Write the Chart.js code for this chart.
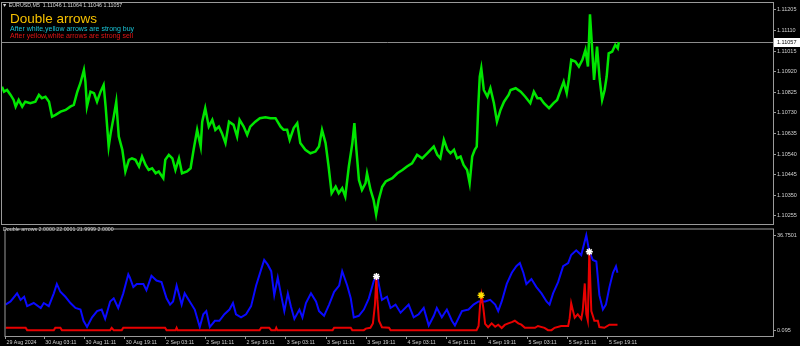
<!DOCTYPE html>
<html>
<head>
<meta charset="utf-8">
<script src="https://cdn.jsdelivr.net/npm/chart.js@4.4.1/dist/chart.umd.min.js"></script>
<style>
  html, body { margin: 0; padding: 0; background: #000; }
  #wrap { position: relative; width: 800px; height: 346px; background: #000; overflow: hidden; font-family: "Liberation Sans", Arial, sans-serif; }
  #priceBox { position: absolute; left: 0; top: 0; width: 800px; height: 225px; }
  #indBox { position: absolute; left: 0; top: 224px; width: 800px; height: 122px; }
  .txt { position: absolute; white-space: nowrap; line-height: 1; }
</style>
</head>
<body>
<div id="wrap">
  <div id="priceBox"><canvas id="price"></canvas></div>
  <div id="indBox"><canvas id="ind"></canvas></div>
  <div class="txt" style="left:2px; top:2.8px; font-size:5.3px; color:#d8d8d8;">▼ EURUSD,M5&nbsp; 1.11046 1.11064 1.11046 1.11057</div>
  <div class="txt" style="left:10px; top:11.5px; font-size:13.5px; color:#f5c000;">Double arrows</div>
  <div class="txt" style="left:10px; top:24.6px; font-size:7px; color:#19c3d6;">After white,yellow arrows are strong buy</div>
  <div class="txt" style="left:10px; top:32.4px; font-size:7px; color:#e01515;">After yellow,white arrows are strong sell</div>
  <div class="txt" style="left:3px; top:227.2px; font-size:5.3px; color:#d0d0d0;">Double arrows 2.0000 22.0001 21.9999 2.0000</div>
</div>
<script>
// time axis: hours since the first bar (29 Aug 19:11), weekend bars skipped
const dateLabels = ['29 Aug 2024', '30 Aug 03:11', '30 Aug 11:11', '30 Aug 19:11', '2 Sep 03:11', '2 Sep 11:11', '2 Sep 19:11',
  '3 Sep 03:11', '3 Sep 11:11', '3 Sep 19:11', '4 Sep 03:11', '4 Sep 11:11', '4 Sep 19:11', '5 Sep 03:11', '5 Sep 11:11', '5 Sep 19:11'];
const dateTickHours = [0.3, 8, 16, 24, 32, 40, 48, 56, 64, 72, 80, 88, 96, 104, 112, 120];

const priceTickLabels = ['1.11205', '1.11110', '1.11015', '1.10920', '1.10825', '1.10730', '1.10635', '1.10540', '1.10445', '1.10350', '1.10255'];
const indTickValues = [36.7501, 0.095];
const indTickLabels = ['36.7501', '0.095'];

// EURUSD M5 closes
const priceHours = [0.3, 0.7, 1.3, 2.0, 2.6, 3.0, 3.6, 4.3, 4.9, 5.9, 6.9, 7.6, 8.2, 8.9, 9.6, 10.2, 10.9, 11.9, 12.9, 13.8,
  14.5, 15.2, 15.8, 16.5, 16.8, 17.1, 17.8, 18.5, 19.1, 19.8, 20.4, 20.8, 21.1, 21.4, 21.8, 22.4, 22.9, 23.4, 24.1, 24.7,
  25.4, 26.0, 26.7, 27.4, 28.0, 28.7, 29.3, 30.0, 30.7, 31.3, 32.2, 32.6, 33.3, 34.0, 34.6, 35.3, 35.9, 36.9, 37.6, 38.2,
  38.9, 39.6, 39.9, 40.5, 41.2, 41.9, 42.5, 43.2, 43.8, 44.5, 45.2, 46.1, 46.8, 47.3, 48.1, 48.8, 49.4, 50.4, 51.3, 52.4,
  53.4, 54.4, 55.4, 56.0, 56.7, 57.2, 58.0, 58.7, 59.3, 60.3, 61.3, 62.3, 63.0, 63.6, 64.3, 64.9, 65.5, 66.3, 66.9, 67.6,
  68.2, 68.9, 69.6, 70.0, 70.4, 70.9, 71.5, 72.2, 72.5, 73.2, 73.8, 74.3, 74.8, 75.5, 76.2, 76.8, 77.5, 78.5, 79.5, 80.4,
  81.4, 82.4, 83.4, 84.4, 85.7, 86.4, 87.0, 87.7, 88.4, 89.0, 89.7, 90.3, 91.0, 91.6, 92.3, 92.8, 93.3, 93.8, 94.2, 94.5,
  94.8, 95.1, 95.6, 96.3, 96.9, 97.6, 98.2, 98.9, 99.6, 100.5, 100.9, 101.9, 102.9, 103.8, 104.8, 105.5, 106.2, 106.8, 107.5, 108.5,
  109.4, 110.1, 110.8, 111.4, 112.0, 112.4, 112.9, 113.7, 114.4, 115.1, 115.7, 116.2, 116.6, 117.0, 117.4, 117.7, 118.0, 118.5, 119.0, 119.5,
  119.9, 120.3, 121.0, 121.6, 122.1, 122.3];
const priceClose = [1.10851, 1.10828, 1.10836, 1.10813, 1.10790, 1.10759, 1.10790, 1.10759, 1.10782, 1.10775, 1.10782, 1.10813, 1.10798, 1.10805, 1.10782, 1.10713, 1.10721, 1.10736, 1.10744, 1.10759,
  1.10767, 1.10828, 1.10867, 1.10928, 1.10874, 1.10759, 1.10828, 1.10821, 1.10782, 1.10828, 1.10859, 1.10759, 1.10667, 1.10575, 1.10637, 1.10713, 1.10782, 1.10621, 1.10560, 1.10460,
  1.10514, 1.10521, 1.10514, 1.10483, 1.10529, 1.10490, 1.10467, 1.10475, 1.10452, 1.10460, 1.10429, 1.10514, 1.10537, 1.10521, 1.10467, 1.10521, 1.10452, 1.10460, 1.10475, 1.10560,
  1.10652, 1.10575, 1.10690, 1.10752, 1.10667, 1.10698, 1.10652, 1.10667, 1.10637, 1.10591, 1.10690, 1.10675, 1.10621, 1.10698, 1.10667, 1.10629, 1.10667, 1.10690, 1.10706, 1.10710,
  1.10706, 1.10706, 1.10667, 1.10652, 1.10652, 1.10606, 1.10660, 1.10683, 1.10591, 1.10560, 1.10544, 1.10552, 1.10575, 1.10652, 1.10591, 1.10483, 1.10360, 1.10390, 1.10360, 1.10383,
  1.10344, 1.10483, 1.10591, 1.10683, 1.10560, 1.10421, 1.10375, 1.10406, 1.10452, 1.10375, 1.10329, 1.10262, 1.10329, 1.10390, 1.10414, 1.10421, 1.10429, 1.10452, 1.10467, 1.10483,
  1.10498, 1.10537, 1.10521, 1.10544, 1.10575, 1.10537, 1.10521, 1.10606, 1.10560, 1.10544, 1.10560, 1.10521, 1.10529, 1.10490, 1.10467, 1.10406, 1.10529, 1.10560, 1.10575, 1.10759,
  1.10898, 1.10936, 1.10836, 1.10805, 1.10844, 1.10775, 1.10690, 1.10744, 1.10782, 1.10813, 1.10836, 1.10844, 1.10828, 1.10805, 1.10775, 1.10828, 1.10798, 1.10798, 1.10775, 1.10752,
  1.10775, 1.10790, 1.10836, 1.10874, 1.10821, 1.10882, 1.10975, 1.10967, 1.10944, 1.10975, 1.11021, 1.10944, 1.11185, 1.11036, 1.10882, 1.10959, 1.11036, 1.10890, 1.10790, 1.10836,
  1.10898, 1.11005, 1.11013, 1.11044, 1.11028, 1.11057];

// indicator: blue line
const blueHours = [0.3, 1.3, 2.6, 3.3, 4.0, 4.6, 5.9, 7.3, 7.9, 8.9, 9.9, 10.5, 11.2, 12.2, 13.2, 14.2, 15.2, 15.8, 16.5, 17.5,
  18.5, 19.4, 20.1, 21.1, 21.8, 22.7, 23.7, 24.7, 25.0, 25.7, 26.4, 27.7, 28.3, 29.3, 30.3, 31.3, 32.3, 33.0, 33.6, 34.3,
  35.3, 35.9, 36.9, 37.9, 38.9, 39.6, 40.2, 40.9, 41.9, 42.8, 43.8, 44.8, 45.5, 46.1, 47.1, 48.1, 49.1, 50.1, 51.1, 51.7,
  52.4, 53.1, 53.7, 54.4, 55.0, 55.7, 56.4, 57.0, 57.7, 58.7, 59.3, 60.0, 61.0, 62.0, 62.6, 63.6, 64.6, 65.6, 66.6, 67.2,
  68.2, 68.9, 69.5, 70.5, 71.5, 72.5, 73.5, 74.2, 75.1, 76.1, 76.8, 77.8, 78.8, 79.1, 80.4, 81.4, 82.4, 83.4, 84.4, 85.4,
  86.0, 87.0, 88.0, 89.0, 89.6, 91.0, 92.3, 93.3, 94.3, 95.6, 96.6, 97.6, 98.2, 98.9, 99.9, 100.9, 101.8, 102.5, 103.2, 103.8,
  104.8, 105.8, 106.8, 107.8, 108.4, 109.1, 110.1, 111.1, 112.1, 112.7, 113.7, 114.7, 115.7, 116.3, 117.0, 117.7, 118.3, 119.0, 119.6, 120.3,
  121.0, 121.6, 121.9];
const blueValues = [10.2, 11.4, 14.5, 12.0, 13.2, 9.6, 10.8, 8.9, 10.8, 9.6, 14.5, 18.1, 15.1, 13.2, 10.8, 8.9, 8.3, 4.0, 1.6, 5.3,
  7.7, 8.3, 4.7, 11.4, 12.6, 8.9, 14.5, 21.8, 20.6, 16.9, 18.1, 18.1, 15.7, 21.2, 19.4, 18.8, 12.6, 10.2, 11.4, 17.5,
  10.2, 14.5, 11.4, 8.3, 1.6, 6.5, 7.7, 1.6, 4.0, 4.0, 6.5, 8.3, 10.8, 6.5, 5.3, 6.5, 9.6, 17.5, 23.7, 27.3,
  25.5, 23.0, 13.8, 20.6, 14.5, 7.7, 14.5, 9.6, 4.7, 8.3, 5.3, 10.8, 14.5, 11.4, 7.7, 5.9, 10.2, 15.1, 17.5, 23.0,
  17.5, 12.6, 5.3, 5.9, 8.3, 12.6, 19.4, 20.6, 12.0, 13.2, 8.9, 10.2, 7.1, 7.7, 10.2, 5.3, 6.5, 8.9, 2.2, 5.9,
  8.9, 5.3, 8.3, 4.0, 2.2, 7.7, 8.3, 10.2, 11.4, 11.4, 12.0, 10.2, 7.7, 11.4, 18.1, 22.4, 24.9, 26.1, 22.4, 18.1,
  20.0, 16.9, 14.5, 11.4, 10.2, 14.5, 18.8, 24.9, 26.1, 29.2, 31.0, 29.2, 36.75, 30.4, 27.3, 26.7, 13.8, 8.3, 10.2, 16.9,
  22.4, 24.9, 22.4];

// indicator: red line
const redHours = [0.3, 4.3, 4.6, 9.9, 10.2, 11.2, 11.5, 21.1, 21.4, 21.8, 23.4, 23.7, 32.0, 32.3, 34.1, 34.3, 34.5, 50.8, 51.1, 52.7,
  53.1, 53.9, 54.1, 54.3, 65.3, 65.6, 68.9, 69.2, 71.5, 71.9, 72.8, 73.3, 73.7, 74.0, 74.2, 74.5, 75.1, 76.5, 76.8, 93.9,
  94.3, 94.6, 94.9, 95.3, 95.6, 96.2, 96.9, 97.6, 98.2, 98.9, 99.5, 100.2, 100.9, 101.5, 102.2, 102.8, 103.5, 105.5, 106.1, 107.4,
  108.1, 108.8, 109.4, 110.7, 112.1, 112.4, 112.7, 113.1, 113.4, 114.0, 114.7, 115.0, 115.4, 115.7, 116.0, 116.3, 116.7, 117.0, 117.3, 118.0,
  118.3, 119.3, 120.3, 121.3, 121.9];
const redValues = [1.3, 1.3, 0.4, 0.4, 1.3, 1.3, 0.4, 0.4, 1.3, 0.4, 0.4, 1.3, 1.3, 0.4, 0.4, 1.3, 0.4, 0.4, 1.3, 1.3,
  0.4, 0.4, 1.3, 0.4, 0.4, 1.3, 1.3, 0.4, 0.4, 1.0, 1.3, 3.0, 10.0, 21.0, 12.0, 4.0, 1.5, 1.3, 0.4, 0.4,
  2.0, 10.0, 13.8, 8.0, 2.8, 1.5, 3.0, 1.7, 2.5, 1.2, 2.4, 3.0, 3.5, 4.0, 3.0, 2.5, 1.3, 1.3, 2.0, 1.3,
  0.4, 0.4, 1.3, 2.0, 2.0, 5.0, 10.7, 7.5, 5.2, 6.5, 4.7, 8.0, 18.3, 6.5, 4.0, 30.4, 7.7, 5.9, 4.0, 4.0,
  1.6, 1.3, 2.5, 2.5, 2.5];

// arrows
const whiteArrowHours = [74.0, 116.3];
const whiteArrowValues = [21.0, 30.4];
const yellowArrowHours = [94.8];
const yellowArrowValues = [13.8];

const X_MIN = 0.3;
const X_MAX = 152.8;
const AXIS_W = 27;
const FONT = "'Liberation Sans', Arial, sans-serif";
const GRAY = '#9a9a9a';

function toPoints(xs, ys) {
  return xs.map((x, i) => ({ x: x, y: ys[i] }));
}

// no extra padding for tick labels, the panels sit edge to edge
function noPad(s) {
  s.paddingTop = 0;
  s.paddingBottom = 0;
  s.paddingLeft = 0;
  s.paddingRight = 0;
}

// panel frame like the terminal draws it
const framePlugin = {
  id: 'frame',
  afterDraw(chart) {
    const { ctx, chartArea: a } = chart;
    ctx.save();
    ctx.strokeStyle = GRAY;
    ctx.lineWidth = 1;
    ctx.strokeRect(a.left - 0.5, a.top - 0.5, a.right - a.left + 1, a.bottom - a.top + 1);
    ctx.restore();
  }
};

// bid line + price box on the right scale
const bidPlugin = {
  id: 'bid',
  beforeDatasetsDraw(chart) {
    const { ctx, chartArea: a } = chart;
    const y = Math.round(chart.scales.y.getPixelForValue(priceClose[priceClose.length - 1])) + 0.5;
    ctx.save();
    ctx.strokeStyle = '#8c8c8c';
    ctx.lineWidth = 1;
    ctx.beginPath();
    ctx.moveTo(a.left, y);
    ctx.lineTo(a.right, y);
    ctx.stroke();
    ctx.restore();
  },
  afterDraw(chart) {
    const { ctx, chartArea: a } = chart;
    const last = priceClose[priceClose.length - 1];
    const y = Math.round(chart.scales.y.getPixelForValue(last));
    ctx.save();
    ctx.fillStyle = '#ffffff';
    ctx.fillRect(a.right + 1, y - 4, 26, 9);
    ctx.fillStyle = '#000000';
    ctx.font = '5.5px ' + FONT;
    ctx.textBaseline = 'middle';
    ctx.fillText(last.toFixed(5), a.right + 4, y + 0.5);
    ctx.restore();
  }
};

const rightTicks = { color: '#d0d0d0', font: { family: FONT, size: 5.5 }, padding: 1 };
const rightGrid = { drawOnChartArea: false, drawTicks: true, tickLength: 3, color: GRAY };

new Chart(document.getElementById('price'), {
  type: 'line',
  data: {
    datasets: [{
      data: toPoints(priceHours, priceClose),
      borderColor: '#00e600',
      borderWidth: 2.5,
      pointRadius: 0,
      tension: 0
    }]
  },
  options: {
    animation: false,
    responsive: true,
    maintainAspectRatio: false,
    layout: { padding: { left: 2, top: 3, right: 0, bottom: 1 } },
    plugins: { legend: { display: false }, tooltip: { enabled: false } },
    scales: {
      x: { type: 'linear', min: X_MIN, max: X_MAX, display: false },
      y: {
        position: 'right',
        min: 1.10218,
        max: 1.11237,
        afterFit: (s) => { s.width = AXIS_W; noPad(s); },
        afterBuildTicks: (s) => { s.ticks = priceTickLabels.map(t => ({ value: Number(t) })); },
        ticks: Object.assign({}, rightTicks, { autoSkip: false, callback: (v) => Number(v).toFixed(5) }),
        grid: rightGrid,
        border: { color: GRAY }
      }
    }
  },
  plugins: [framePlugin, bidPlugin]
});

new Chart(document.getElementById('ind'), {
  type: 'line',
  data: {
    datasets: [
      {
        data: toPoints(whiteArrowHours, whiteArrowValues),
        showLine: false,
        pointStyle: 'star',
        pointRadius: 3.5,
        borderColor: '#ffffff',
        backgroundColor: '#ffffff',
        borderWidth: 1.5,
        order: 0
      },
      {
        data: toPoints(yellowArrowHours, yellowArrowValues),
        showLine: false,
        pointStyle: 'star',
        pointRadius: 3.5,
        borderColor: '#ffe000',
        backgroundColor: '#ffe000',
        borderWidth: 1.5,
        order: 0
      },
      {
        data: toPoints(redHours, redValues),
        borderColor: '#e80000',
        borderWidth: 2,
        pointRadius: 0,
        tension: 0,
        order: 1
      },
      {
        data: toPoints(blueHours, blueValues),
        borderColor: '#0a0aff',
        borderWidth: 2,
        pointRadius: 0,
        tension: 0,
        order: 2
      }
    ]
  },
  options: {
    animation: false,
    responsive: true,
    maintainAspectRatio: false,
    layout: { padding: { left: 2, top: 1, right: 0, bottom: 0 } },
    plugins: { legend: { display: false }, tooltip: { enabled: false } },
    scales: {
      x: {
        type: 'linear',
        min: X_MIN,
        max: X_MAX,
        afterFit: (s) => { s.height = 10; noPad(s); },
        afterBuildTicks: (s) => { s.ticks = dateTickHours.map(h => ({ value: h })); },
        ticks: {
          autoSkip: false,
          maxRotation: 0,
          align: 'start',
          labelOffset: 1,
          padding: 0,
          color: '#d0d0d0',
          font: { family: FONT, size: 5.3 },
          callback: (v, i) => dateLabels[i]
        },
        grid: { drawOnChartArea: false, drawTicks: true, tickLength: 3, color: GRAY },
        border: { color: GRAY }
      },
      y: {
        position: 'right',
        min: -1.84,
        max: 38.97,
        afterFit: (s) => { s.width = AXIS_W; noPad(s); },
        afterBuildTicks: (s) => { s.ticks = indTickValues.map(v => ({ value: v })); },
        ticks: Object.assign({}, rightTicks, { autoSkip: false, callback: (v, i) => indTickLabels[i] }),
        grid: rightGrid,
        border: { color: GRAY }
      }
    }
  },
  plugins: [framePlugin]
});
</script>
</body>
</html>
